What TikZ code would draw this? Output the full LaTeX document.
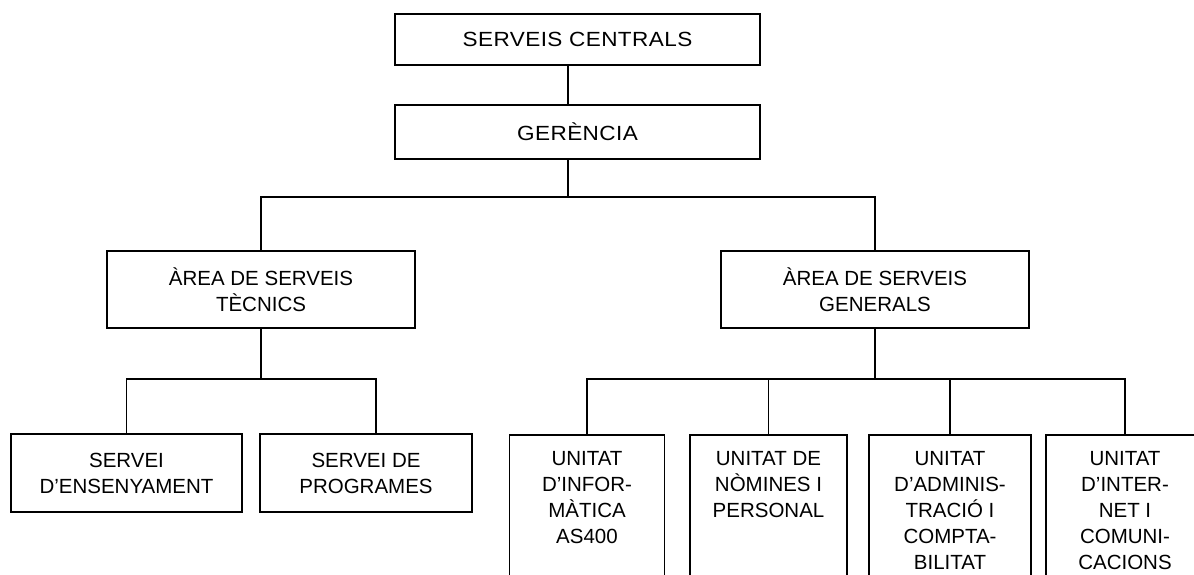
\documentclass[tikz,border=0pt]{standalone}
\usepackage{fontspec}
\setmainfont{Liberation Sans}

\begin{document}
\begin{tikzpicture}[x=1pt,y=-1pt]
\tikzstyle{every node}=[font=\fontsize{20.5}{26}\selectfont]
\tikzstyle{box}=[draw,line width=1.7pt,align=center]
\tikzstyle{topbox}=[box,minimum width=365,font=\fontsize{20.5}{26}\selectfont\addfontfeature{FakeStretch=1.1,LetterSpace=2}]
\tikzstyle{unit}=[box,anchor=north,minimum height=175]
\tikzstyle{unittext}=[anchor=north,align=center,inner sep=0pt,yshift=-17pt]
\tikzstyle{conn}=[line width=1.7pt]
\useasboundingbox (0,0) rectangle (1194,575);
\clip (0,0) rectangle (1194,575);
% top of the chart
\node[topbox,minimum height=51] (sc) at (577.5,39.5) {SERVEIS CENTRALS};
\node[topbox,minimum height=54] (ger) at (577.5,132) {GERÈNCIA};
% areas
\node[box,minimum width=308,minimum height=77] (ast) at (261,289.5) {ÀREA DE SERVEIS\\TÈCNICS};
\node[box,minimum width=308,minimum height=77] (asg) at (875,289.5) {ÀREA DE SERVEIS\\GENERALS};
% serveis
\node[box,minimum width=231,minimum height=78] (se) at (126.5,473) {SERVEI\\D’ENSENYAMENT};
\node[box,minimum width=212,minimum height=78] (sp) at (366,473) {SERVEI DE\\PROGRAMES};
% unitats
\node[unit,minimum width=155,label={[unittext]north:UNITAT\\D’INFOR-\\MÀTICA\\AS400}] (u1) at (587,434) {};
\node[unit,minimum width=157,label={[unittext]north:UNITAT DE\\NÒMINES I\\PERSONAL}] (u2) at (768.5,434) {};
\node[unit,minimum width=162,label={[unittext]north:UNITAT\\D’ADMINIS-\\TRACIÓ I\\COMPTA-\\BILITAT}] (u3) at (950,434) {};
\node[unit,minimum width=158,label={[unittext]north:UNITAT\\D’INTER-\\NET I\\COMUNI-\\CACIONS}] (u4) at (1125,434) {};
% connectors
\coordinate (jtop) at (568,197);
\coordinate (jl) at (260,379);
\coordinate (jr) at (875,379);
\draw[conn] (sc.south -| jtop) -- (ger.north -| jtop);
\draw[conn] (ger.south -| jtop) -- (jtop);
\draw[conn] (ast.north) |- (jtop) -| (asg.north);
\draw[conn] (ast.south) -- (ast.south |- jl);
\draw[conn] (se.north) |- (jl) -| ([xshift=10pt]sp.north);
\draw[conn] (asg.south) -- (jr);
\draw[conn] (u1.north) |- (jr) -| (u4.north);
\draw[conn] (u2.north) -- (u2.north |- jr);
\draw[conn] (u3.north) -- (u3.north |- jr);
\end{tikzpicture}
\end{document}
